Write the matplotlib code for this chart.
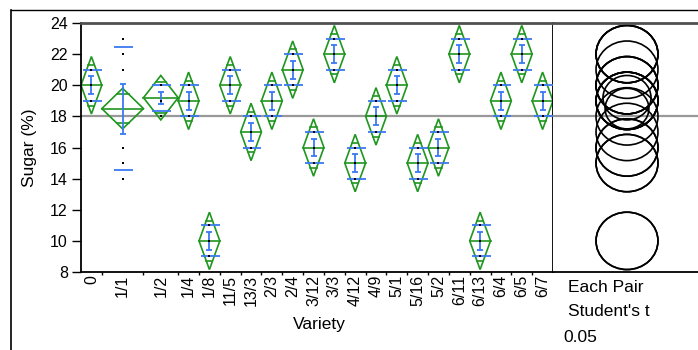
import numpy as np
import matplotlib
matplotlib.use("Agg")
import matplotlib.pyplot as plt
from matplotlib.patches import Polygon, Ellipse
from matplotlib.lines import Line2D

plt.rcParams['font.family'] = ['Liberation Sans', 'DejaVu Sans']

# Datos: azucar (%) por variedad
varieties = ['0', '1/1', '1/2', '1/4', '1/8', '11/5', '13/3', '2/3', '2/4', '3/12',
             '3/3', '4/12', '4/9', '5/1', '5/16', '5/2', '6/11', '6/13', '6/4', '6/5', '6/7']
sugar = [
    [19, 20, 21],
    [14, 15, 16, 21, 22, 23],
    [18, 19, 19, 20, 20],
    [18, 19, 20],
    [9, 10, 11],
    [19, 20, 21],
    [16, 17, 18],
    [18, 19, 20],
    [20, 21, 22],
    [15, 16, 17],
    [21, 22, 23],
    [14, 15, 16],
    [17, 18, 19],
    [19, 20, 21],
    [14, 15, 16],
    [15, 16, 17],
    [21, 22, 23],
    [9, 10, 11],
    [18, 19, 20],
    [21, 22, 23],
    [18, 19, 20],
]
T_CRIT = 2.012   # t(0.975, df=47)
alpha_txt = ['Each Pair', "Student's t", '0.05']

GREEN = '#1f961f'
BLUE = '#3a7af2'

# Estadisticas
n = np.array([len(g) for g in sugar])
means = np.array([np.mean(g) for g in sugar])
sd = np.array([np.std(g, ddof=1) for g in sugar])
se = sd / np.sqrt(n)
ss_within = sum(np.sum((np.array(g) - np.mean(g)) ** 2) for g in sugar)
rmse = np.sqrt(ss_within / (n.sum() - len(sugar)))
ci = T_CRIT * rmse / np.sqrt(n)
grand = np.mean(np.concatenate([np.array(g, float) for g in sugar]))

edges = np.concatenate([[0], np.cumsum(n)])
centers = edges[:-1] + n / 2.0

W, H = 698, 350
fig = plt.figure(figsize=(W / 100, H / 100), dpi=100)

ax = fig.add_axes([81 / W, 1 - 272 / H, 472 / W, 249 / H])
ax2 = fig.add_axes([553 / W, 1 - 272 / H, 145 / W, 249 / H], sharey=ax)

# linea de media global
ax.axhline(grand, color='#999999', lw=1.6, zorder=0)
ax2.axhline(grand, color='#999999', lw=1.6, zorder=0)

for i in range(len(sugar)):
    xl, xr, c, m, h = edges[i], edges[i + 1], centers[i], means[i], ci[i]
    ax.add_patch(Polygon([(xl, m), (c, m + h), (xr, m), (c, m - h)], closed=True,
                         fill=False, edgecolor=GREEN, lw=1.2, zorder=2))
    ax.plot([xl, xr], [m, m], color=GREEN, lw=1.2, zorder=2)
    ov = h / np.sqrt(2)
    hw = (n[i] / 2.0) * (1 - 1 / np.sqrt(2))
    for yy in (m + ov, m - ov):
        ax.plot([c - hw, c + hw], [yy, yy], color=GREEN, lw=1.2, zorder=2)
    # lineas de desviacion estandar
    ax.hlines([m + sd[i], m - sd[i]], c - 1.2, c + 1.5, color=BLUE, lw=1.3, zorder=3)
    # puntos
    ax.plot([c] * n[i], sugar[i], 's', color='black', ms=2.0, mew=0, zorder=4)

ax.errorbar(centers, means, yerr=se, fmt='none', ecolor=BLUE, elinewidth=1.3,
            capsize=2.5, capthick=1.3, zorder=3)

ax.set_xlim(0, edges[-1])
ax.set_ylim(8, 24)
ax.set_yticks(np.arange(8, 25, 2))
ax.set_xticks(centers)
ax.set_xticklabels(varieties, rotation=90, fontsize=11.5)
ax.set_xticks(edges[1:-1], minor=True)
ax.tick_params(axis='x', which='major', length=0, pad=2)
ax.tick_params(axis='x', which='minor', length=2.5, width=1, direction='out')
ax.tick_params(axis='y', length=6.5, width=1, pad=3, labelsize=11.5)

ax.set_ylabel('Sugar (%)', fontsize=12.5)
ax.yaxis.set_label_coords(-0.093, 0.5)
ax.set_xlabel('Variety', fontsize=12.5)
ax.xaxis.set_label_coords(0.506, -0.182)

for s in ('left', 'bottom', 'right'):
    ax.spines[s].set_linewidth(1.3)
    ax.spines[s].set_color('black')
ax.spines['top'].set_linewidth(2)
ax.spines['top'].set_color('#505050')

# circulos de comparacion
px_per_x = 249 / 16 * 1.08
ax2.set_xlim(0, 145 / px_per_x)
cx = (627 - 553) / px_per_x
for m, h in zip(means, ci):
    ax2.add_patch(Ellipse((cx, m), 2 * h, 2 * h, fill=False, edgecolor='black', lw=1.2))
ax2.set_xticks([])
ax2.tick_params(axis='y', left=False, labelleft=False)
ax2.spines['left'].set_visible(False)
ax2.spines['right'].set_visible(False)
ax2.spines['bottom'].set_linewidth(1.3)
ax2.spines['top'].set_linewidth(2)
ax2.spines['top'].set_color('#505050')

fig.text(568 / W, 1 - 287 / H, alpha_txt[0], fontsize=12.5, va='center', ha='left')
fig.text(568 / W, 1 - 312 / H, alpha_txt[1], fontsize=12.5, va='center', ha='left')
fig.text(563 / W, 1 - 337 / H, alpha_txt[2], fontsize=12.5, va='center', ha='left')

# marco exterior
fig.add_artist(Line2D([11 / W, 1], [1 - 10 / H, 1 - 10 / H], transform=fig.transFigure,
                      color='black', lw=1))
fig.add_artist(Line2D([11 / W, 11 / W], [0, 1 - 10 / H], transform=fig.transFigure,
                      color='black', lw=1.2))

fig.savefig('out.png', dpi=100)
